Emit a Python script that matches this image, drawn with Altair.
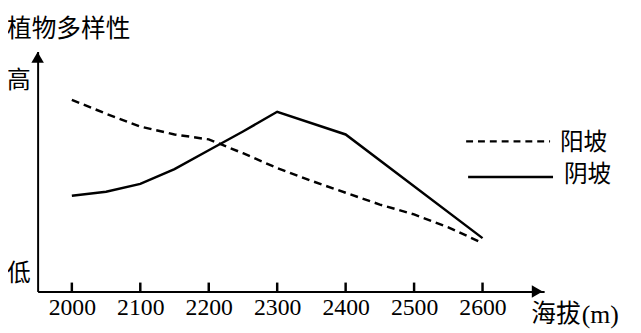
import altair as alt
import pandas as pd

# ---- data ----
elev_sunny = [2000, 2050, 2100, 2150, 2200, 2250, 2300, 2350, 2400, 2450, 2500, 2550, 2600]
div_sunny = [194, 180, 167, 159, 154, 140, 125, 112, 100, 88, 78, 65, 49]
elev_shady = [2000, 2050, 2100, 2150, 2200, 2250, 2300, 2400, 2600]
div_shady = [97, 101, 109, 124, 143, 162, 182, 159, 54]
tick_vals = [2000, 2100, 2200, 2300, 2400, 2500, 2600]

sunny = pd.DataFrame({"elev": elev_sunny, "div": div_sunny})
shady = pd.DataFrame({"elev": elev_shady, "div": div_shady})
ticks = pd.DataFrame({"elev": tick_vals, "lo": [0] * len(tick_vals), "hi": [9] * len(tick_vals)})
one = pd.DataFrame({"k": [0]})

CJK = "Noto Sans CJK SC"
SERIF = "Liberation Serif"

xs = alt.Scale(domain=[1950, 2690], nice=False, zero=False)
ys = alt.Scale(domain=[0, 243], nice=False, zero=False)
x_axis = alt.Axis(values=tick_vals, format="d", title=None, grid=False, ticks=False, tickSize=0,
                  domain=True, domainColor="black", domainWidth=2,
                  labelFont=SERIF, labelFontSize=24, labelColor="black", labelPadding=4,
                  labelFlush=False, labelOverlap=False)
y_axis = alt.Axis(title=None, grid=False, ticks=False, tickSize=0, labels=False,
                  domain=True, domainColor="black", domainWidth=2)

line_sunny = alt.Chart(sunny).mark_line(color="black", strokeWidth=2.5, strokeDash=[8, 5]).encode(
    x=alt.X("elev:Q", scale=xs, axis=x_axis), y=alt.Y("div:Q", scale=ys, axis=y_axis))
line_shady = alt.Chart(shady).mark_line(color="black", strokeWidth=2.5).encode(
    x=alt.X("elev:Q", scale=xs, axis=x_axis), y=alt.Y("div:Q", scale=ys, axis=y_axis))

tick_rules = alt.Chart(ticks).mark_rule(color="black", strokeWidth=2.5).encode(
    x=alt.X("elev:Q", scale=xs, axis=x_axis), y=alt.Y("lo:Q", scale=ys, axis=y_axis), y2="hi")

arrow_x = alt.Chart(one).mark_point(shape="triangle-right", filled=True, size=160, color="black",
                                    opacity=1).encode(x=alt.value(506), y=alt.value(243))
arrow_y = alt.Chart(one).mark_point(shape="triangle-up", filled=True, size=160, color="black",
                                    opacity=1).encode(x=alt.value(0), y=alt.value(6))


def label(text, x, y, size=24, font=CJK, align="left"):
    return alt.Chart(one).mark_text(text=text, font=font, fontSize=size, align=align, baseline="middle",
                                    color="black").encode(x=alt.value(x), y=alt.value(y))


title = label("植物多样性", -31, -23, size=25)
high = label("高", -19, 30, align="center")
low = label("低", -19, 225, align="center")
xtitle = label("海拔", 500, 266, size=25)
xunit = label("(m)", 551, 267, size=26, font=SERIF)

leg_dash = alt.Chart(one).mark_rule(color="black", strokeWidth=2.5, strokeDash=[7, 5]).encode(
    x=alt.value(434), x2=alt.value(519), y=alt.value(91))
leg_solid = alt.Chart(one).mark_rule(color="black", strokeWidth=2.5).encode(
    x=alt.value(436), x2=alt.value(522), y=alt.value(127))
leg_t1 = label("阳坡", 529, 93)
leg_t2 = label("阴坡", 533, 125)

chart = alt.layer(
    line_sunny, line_shady, tick_rules, arrow_x, arrow_y,
    title, high, low, xtitle, xunit, leg_dash, leg_solid, leg_t1, leg_t2
).properties(
    width=513, height=243,
    padding={"left": 30, "top": 42, "right": 90, "bottom": 40},
    autosize=alt.AutoSizeParams(type="none"),
    view=alt.ViewBackground(stroke="transparent", strokeWidth=0),
).configure_view(strokeWidth=0, stroke="transparent").configure(background="white")

chart.save("out.html", embed_options={"renderer": "svg", "actions": False})
